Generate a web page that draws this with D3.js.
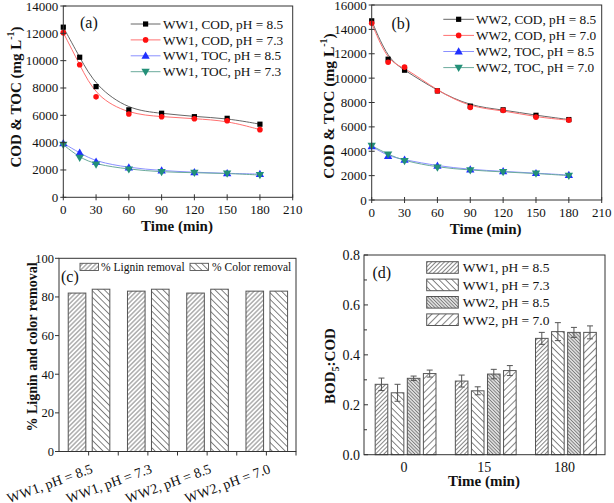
<!DOCTYPE html>
<html><head><meta charset="utf-8">
<script src="https://cdn.jsdelivr.net/npm/d3@7"></script>
<style>
body{margin:0;background:#fff}
svg{display:block}
text{font-family:"Liberation Serif","Times New Roman",serif;fill:#111}
</style>
</head><body>
<svg id="c" width="614" height="503"></svg>
<script>
// ---------------- DATA ----------------
const timeMin = [0, 15, 30, 60, 90, 120, 150, 180];
const ww1CodPh85 = [12450, 10250, 8100, 6400, 6150, 5900, 5780, 5350];
const ww1CodPh73 = [12050, 9700, 7350, 6100, 5900, 5750, 5600, 4950];
const ww1TocPh85 = [3950, 3250, 2600, 2170, 1950, 1830, 1750, 1700];
const ww1TocPh73 = [3850, 2900, 2400, 2050, 1850, 1800, 1750, 1630];
const ww2CodPh85 = [14700, 11550, 10650, 8950, 7700, 7400, 6950, 6600];
const ww2CodPh70 = [14500, 11300, 10900, 8950, 7600, 7350, 6800, 6550];
const ww2TocPh85 = [4400, 3600, 3300, 2800, 2500, 2350, 2200, 2050];
const ww2TocPh70 = [4450, 3750, 3200, 2680, 2450, 2300, 2180, 2000];
const legendA = ["WW1, COD, pH = 8.5", "WW1, COD, pH = 7.3", "WW1, TOC, pH = 8.5", "WW1, TOC, pH = 7.3"];
const legendB = ["WW2, COD, pH = 8.5", "WW2, COD, pH = 7.0", "WW2, TOC, pH = 8.5", "WW2, TOC, pH = 7.0"];
const timeTicks = [0, 30, 60, 90, 120, 150, 180, 210];
const yTicksA = [0, 2000, 4000, 6000, 8000, 10000, 12000, 14000];
const yTicksB = [0, 2000, 4000, 6000, 8000, 10000, 12000, 14000, 16000];

const removalCategories = ["WW1, pH = 8.5", "WW1, pH = 7.3", "WW2, pH = 8.5", "WW2, pH = 7.0"];
const ligninRemoval = [82, 83, 82, 83];
const colorRemoval = [84, 84, 84, 83];
const removalLegend = ["% Lignin removal", "% Color removal"];
const removalTicks = [0, 20, 40, 60, 80, 100];

const bodTimes = ["0", "15", "180"];
const bodSeries = ["WW1, pH = 8.5", "WW1, pH = 7.3", "WW2, pH = 8.5", "WW2, pH = 7.0"];
const bodWw1Ph85 = [0.282, 0.295, 0.466];
const bodWw1Ph73 = [0.248, 0.256, 0.493];
const bodWw2Ph85 = [0.306, 0.323, 0.490];
const bodWw2Ph70 = [0.325, 0.337, 0.490];
const errWw1Ph85 = [0.025, 0.024, 0.024];
const errWw1Ph73 = [0.034, 0.016, 0.036];
const errWw2Ph85 = [0.009, 0.019, 0.020];
const errWw2Ph70 = [0.014, 0.020, 0.026];
const bodTicks = [0, 0.2, 0.4, 0.6, 0.8];
const bodMinorTicks = [0.1, 0.3, 0.5, 0.7];

// ---------------- DRAW ----------------
const svg = d3.select("#c");
svg.append("rect").attr("width", 614).attr("height", 503).attr("fill", "#fff");
const defs = svg.append("defs");
const AX = "#333";

function hatch(id, angle, sp, sw, color, bg) {
  const p = defs.append("pattern").attr("id", id)
    .attr("patternUnits", "userSpaceOnUse").attr("width", sp).attr("height", sp)
    .attr("patternTransform", `rotate(${angle})`);
  p.append("rect").attr("width", sp).attr("height", sp).attr("fill", bg || "#fff");
  p.append("line").attr("x1", sp / 2).attr("x2", sp / 2).attr("y1", -1).attr("y2", sp + 1)
    .attr("stroke", color).attr("stroke-width", sw);
}
hatch("pLig", 45, 3.2, 0.8, "#666");
hatch("pCol", -45, 4.6, 0.8, "#666");
hatch("pD1", 45, 3.0, 0.8, "#666");
hatch("pD2", -45, 4.6, 0.8, "#666");
hatch("pD3", -45, 2.4, 0.9, "#777", "#e4e4e4");
hatch("pD4", 45, 5.0, 0.8, "#666");

function marker(g, type, cx, cy, color) {
  if (type === "square") {
    g.append("rect").attr("x", cx - 2.6).attr("y", cy - 2.6).attr("width", 5.2).attr("height", 5.2).attr("fill", color);
  } else if (type === "circle") {
    g.append("circle").attr("cx", cx).attr("cy", cy).attr("r", 2.8).attr("fill", color);
  } else {
    g.append("path").attr("d", d3.symbol(d3.symbolTriangle).size(30)())
      .attr("transform", `translate(${cx},${cy + (type === "up" ? 0.5 : -0.5)}) rotate(${type === "up" ? 0 : 180})`)
      .attr("fill", color);
  }
}

function linePanel(o) {
  const g = svg.append("g");
  const x = d3.scaleLinear().domain([0, 210]).range([o.l, o.r]);
  const y = d3.scaleLinear().domain([0, o.ymax]).range([o.b, o.t]);
  const line = d3.line().x(d => x(d[0])).y(d => y(d[1])).curve(d3.curveBasis);
  o.series.forEach(s => {
    const pts = timeMin.map((t, j) => [t, s.values[j]]);
    g.append("path").datum(pts).attr("d", line).attr("fill", "none")
      .attr("stroke", s.line).attr("stroke-width", 1);
  });
  o.series.forEach(s => {
    timeMin.forEach((t, j) => marker(g, s.mk, x(t), y(s.values[j]), s.color));
  });
  g.append("rect").attr("x", o.l).attr("y", o.t).attr("width", o.r - o.l).attr("height", o.b - o.t)
    .attr("fill", "none").attr("stroke", AX).attr("stroke-width", 1);
  timeTicks.forEach(v => {
    g.append("line").attr("x1", x(v)).attr("x2", x(v)).attr("y1", o.b - 3).attr("y2", o.b + 3).attr("stroke", AX);
    g.append("text").attr("x", x(v)).attr("y", o.b + 16.5).attr("text-anchor", "middle")
      .attr("font-size", "13px").text(v);
  });
  o.yTicks.forEach(v => {
    g.append("line").attr("x1", o.l - 3).attr("x2", o.l + 3).attr("y1", y(v)).attr("y2", y(v)).attr("stroke", AX);
    g.append("text").attr("x", o.l - 5).attr("y", Math.max(y(v) + 4.5, 10)).attr("text-anchor", "end")
      .attr("font-size", "13px").text(v);
  });
  g.append("text").attr("x", (o.l + o.r) / 2 - 1).attr("y", o.b + 34).attr("text-anchor", "middle")
    .attr("font-size", "15px").attr("font-weight", "bold").text("Time (min)");
  const yt = g.append("text").attr("transform", `translate(${o.ytx},${o.yty}) rotate(-90)`)
    .attr("text-anchor", "middle").attr("font-size", o.ytfs).attr("font-weight", "bold");
  yt.append("tspan").text("COD & TOC (mg L");
  yt.append("tspan").attr("font-size", "10px").attr("dy", -7).text("-1");
  yt.append("tspan").attr("dy", 7).text(")");
  g.append("text").attr("x", o.lab[0]).attr("y", o.lab[1]).attr("font-size", "16px").text(o.label);
  o.series.forEach((s, i) => {
    const cy = o.lg.y0 + i * o.lg.dy;
    g.append("line").attr("x1", o.lg.x1).attr("x2", o.lg.x2).attr("y1", cy).attr("y2", cy)
      .attr("stroke", s.line).attr("stroke-width", 1);
    marker(g, s.mk, (o.lg.x1 + o.lg.x2) / 2, cy, s.color);
    g.append("text").attr("x", o.lg.xt).attr("y", cy + 4.6).attr("font-size", "13.3px").text(o.legend[i]);
  });
}

const styleSet = [
  {mk: "square", color: "#000", line: "#666"},
  {mk: "circle", color: "#ff1010", line: "#ff7070"},
  {mk: "up", color: "#2030ff", line: "#8a90ff"},
  {mk: "down", color: "#239078", line: "#6aaa9c"}
];

linePanel({
  l: 63.3, r: 292.7, t: 6, b: 197.3, ymax: 14000, yTicks: yTicksA,
  series: [ww1CodPh85, ww1CodPh73, ww1TocPh85, ww1TocPh73].map((v, i) => Object.assign({values: v}, styleSet[i])),
  legend: legendA, lg: {x1: 130.7, x2: 160.5, xt: 163, y0: 24, dy: 15.9},
  label: "(a)", lab: [80, 28], ytx: 20.5, yty: 97, ytfs: "15px"
});
linePanel({
  l: 371.7, r: 601.7, t: 5, b: 200, ymax: 16000, yTicks: yTicksB,
  series: [ww2CodPh85, ww2CodPh70, ww2TocPh85, ww2TocPh70].map((v, i) => Object.assign({values: v}, styleSet[i])),
  legend: legendB, lg: {x1: 443.3, x2: 474, xt: 476, y0: 19.3, dy: 16.1},
  label: "(b)", lab: [391.5, 28.5], ytx: 333.5, yty: 106, ytfs: "15.5px"
});

// ---------------- Panel (c) ----------------
(function () {
  const L = 59, R = 296, T = 258.3, B = 451.5;
  const g = svg.append("g");
  const x = d3.scaleBand().domain(removalCategories).range([L, R]);
  const y = d3.scaleLinear().domain([0, 100]).range([B, T]);
  const bw = 17.6;
  removalCategories.forEach((c, i) => {
    const cx = x(c) + x.bandwidth() / 2;
    g.append("rect").attr("x", cx - 20.4).attr("y", y(ligninRemoval[i])).attr("width", bw)
      .attr("height", B - y(ligninRemoval[i])).attr("fill", "url(#pLig)").attr("stroke", "#555").attr("stroke-width", 1);
    g.append("rect").attr("x", cx + 3.6).attr("y", y(colorRemoval[i])).attr("width", bw)
      .attr("height", B - y(colorRemoval[i])).attr("fill", "url(#pCol)").attr("stroke", "#555").attr("stroke-width", 1);
  });
  g.append("rect").attr("x", L).attr("y", T).attr("width", R - L).attr("height", B - T)
    .attr("fill", "none").attr("stroke", AX);
  removalTicks.forEach(v => {
    g.append("line").attr("x1", L - 4).attr("x2", L).attr("y1", y(v)).attr("y2", y(v)).attr("stroke", AX);
    g.append("text").attr("x", L - 5).attr("y", y(v) + 4.3).attr("text-anchor", "end").attr("font-size", "12.5px").text(v);
  });
  removalCategories.forEach((c, i) => {
    const cx = x(c) + x.bandwidth() / 2;
    g.append("line").attr("x1", cx).attr("x2", cx).attr("y1", B).attr("y2", B + 4).attr("stroke", AX);
    g.append("line").attr("x1", x(c) + x.bandwidth()).attr("x2", x(c) + x.bandwidth()).attr("y1", B).attr("y2", B + 4).attr("stroke", AX);
    g.append("text").attr("transform", `translate(${cx + 5},${B + 21}) rotate(-20)`)
      .attr("text-anchor", "end").attr("font-size", "14px").text(c);
  });
  g.append("text").attr("transform", `translate(36.5,347) rotate(-90)`).attr("text-anchor", "middle")
    .attr("font-size", "14px").attr("font-weight", "bold").text("% Lignin and color removal");
  g.append("text").attr("x", 61).attr("y", 282).attr("font-size", "16px").text("(c)");
  const lx = [80, 190], tx = [101, 212], fills = ["url(#pLig)", "url(#pCol)"];
  removalLegend.forEach((s, i) => {
    g.append("rect").attr("x", lx[i]).attr("y", 263.3).attr("width", 18.5).attr("height", 7.2)
      .attr("fill", fills[i]).attr("stroke", "#555").attr("stroke-width", 0.9);
    g.append("text").attr("x", tx[i]).attr("y", 270.8).attr("font-size", "11.5px").text(s);
  });
})();

// ---------------- Panel (d) ----------------
(function () {
  const L = 364, R = 605, T = 255, B = 454.7;
  const g = svg.append("g");
  const x = d3.scaleBand().domain(bodTimes).range([365.5, 606]);
  const y = d3.scaleLinear().domain([0, 0.8]).range([B, T]);
  const vals = [bodWw1Ph85, bodWw1Ph73, bodWw2Ph85, bodWw2Ph70];
  const errs = [errWw1Ph85, errWw1Ph73, errWw2Ph85, errWw2Ph70];
  const fills = ["url(#pD1)", "url(#pD2)", "url(#pD3)", "url(#pD4)"];
  const bw = 12.6, step = 16.07;
  bodTimes.forEach((t, j) => {
    const c = x(t) + x.bandwidth() / 2;
    vals.forEach((v, i) => {
      const cx = c + (i - 1.5) * step;
      g.append("rect").attr("x", cx - bw / 2).attr("y", y(v[j])).attr("width", bw).attr("height", B - y(v[j]))
        .attr("fill", fills[i]).attr("stroke", "#555").attr("stroke-width", 1);
      const e = errs[i][j];
      g.append("line").attr("x1", cx).attr("x2", cx).attr("y1", y(v[j] - e)).attr("y2", y(v[j] + e)).attr("stroke", "#555");
      [v[j] - e, v[j] + e].forEach(yy => {
        g.append("line").attr("x1", cx - 3).attr("x2", cx + 3).attr("y1", y(yy)).attr("y2", y(yy)).attr("stroke", "#555");
      });
    });
    g.append("text").attr("x", c - 1.5).attr("y", B + 17).attr("text-anchor", "middle").attr("font-size", "14px").text(t);
  });
  g.append("rect").attr("x", L).attr("y", T).attr("width", R - L).attr("height", B - T)
    .attr("fill", "none").attr("stroke", AX);
  bodTicks.forEach(v => {
    g.append("line").attr("x1", L).attr("x2", L + 4).attr("y1", y(v)).attr("y2", y(v)).attr("stroke", AX);
    g.append("text").attr("x", L - 4).attr("y", y(v) + 4.8).attr("text-anchor", "end").attr("font-size", "14px").text(v.toFixed(1));
  });
  bodMinorTicks.forEach(v => {
    g.append("line").attr("x1", L).attr("x2", L + 3).attr("y1", y(v)).attr("y2", y(v)).attr("stroke", AX);
  });
  g.append("text").attr("x", 484).attr("y", 485.5).attr("text-anchor", "middle")
    .attr("font-size", "15px").attr("font-weight", "bold").text("Time (min)");
  const yt = g.append("text").attr("transform", `translate(334.5,366) rotate(-90)`).attr("text-anchor", "middle")
    .attr("font-size", "15px").attr("font-weight", "bold");
  yt.append("tspan").text("BOD");
  yt.append("tspan").attr("font-size", "10px").attr("dy", 4).text("5");
  yt.append("tspan").attr("dy", -4).text(":COD");
  g.append("text").attr("x", 372.5).attr("y", 277.5).attr("font-size", "16px").text("(d)");
  bodSeries.forEach((s, i) => {
    const ty = 261.7 + i * 17.4;
    g.append("rect").attr("x", 426.7).attr("y", ty).attr("width", 31.6).attr("height", 11.6)
      .attr("fill", fills[i]).attr("stroke", "#555").attr("stroke-width", 1);
    g.append("text").attr("x", 462.7).attr("y", ty + 10.6).attr("font-size", "13.5px").text(s);
  });
})();
</script>
</body></html>
